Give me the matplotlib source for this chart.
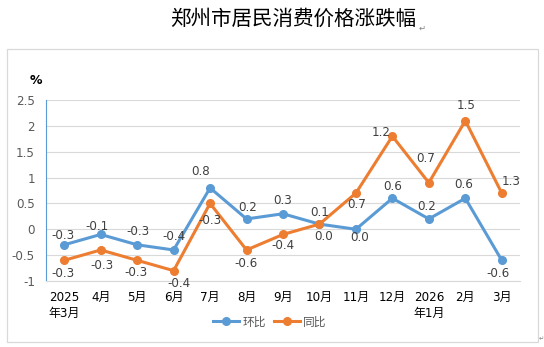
import matplotlib
matplotlib.use("Agg")
import matplotlib.pyplot as plt
from matplotlib.patches import Rectangle
from matplotlib.lines import Line2D

# DejaVu for digits, Noto CJK for the Chinese characters
plt.rcParams['font.family'] = ['DejaVu Sans', 'Noto Sans CJK SC']

# data
months = ["2025\n年3月", "4月", "5月", "6月", "7月", "8月", "9月",
          "10月", "11月", "12月", "2026\n年1月", "2月", "3月"]
mom = [-0.3, -0.1, -0.3, -0.4, 0.8, 0.2, 0.3, 0.1, 0.0, 0.6, 0.2, 0.6, -0.6]
yoy = [-0.6, -0.4, -0.6, -0.8, 0.5, -0.4, -0.1, 0.1, 0.7, 1.8, 0.9, 2.1, 0.7]
mom_labels = ["-0.3", "-0.1", "-0.3", "-0.4", "0.8", "0.2", "0.3",
              "0.1", "0.0", "0.6", "0.2", "0.6", "-0.6"]
yoy_labels = ["-0.3", "-0.3", "-0.3", "-0.4", "-0.3", "-0.6", "-0.4",
              "0.0", "0.7", "1.2", "0.7", "1.5", "1.3"]
y_ticks = [-1, -0.5, 0, 0.5, 1, 1.5, 2, 2.5]

# label offsets in pixels (dx, dy)
mom_off = [(-1, 9), (-4, 8), (1, 13), (0, 13), (-10, 16), (1, 11), (0, 13),
           (0, 12), (4, -8), (0, 12), (-2, 12), (-2, 14), (-4, -13)]
yoy_off = [(-1, -13), (1, -16), (-1, -12), (5, -13), (0, -17), (-1, -14), (0, -11),
           (4, -12), (1, -11), (-11, 4), (-3, 24), (1, 15), (9, 12)]

BLUE = "#5B9BD5"
ORANGE = "#ED7D31"
W, H = 544, 347
FS = 8.6

fig = plt.figure(figsize=(W / 100, H / 100), dpi=100)
ax = fig.add_axes([46 / W, 1 - 281 / H, (520 - 46) / W, (281 - 100) / H])

x = list(range(len(months)))
ax.plot(x, mom, color=BLUE, lw=2.2, marker="o", ms=5.5, zorder=3, label="环比")
ax.plot(x, yoy, color=ORANGE, lw=2.2, marker="o", ms=5.5, zorder=3, label="同比")

for i in x:
    ax.annotate(mom_labels[i], (i, mom[i]), xytext=mom_off[i], textcoords="offset pixels",
                ha="center", va="center", fontsize=FS, color="#404040")
    ax.annotate(yoy_labels[i], (i, yoy[i]), xytext=yoy_off[i], textcoords="offset pixels",
                ha="center", va="center", fontsize=FS, color="#404040")

ax.set_xlim(-0.5, len(months) - 0.5)
ax.set_ylim(-1, 2.5)
ax.set_yticks(y_ticks)
ax.set_yticklabels([f"{v:g}" for v in y_ticks], fontsize=FS, color="#595959")
ax.set_xticks(x)
ax.set_xticklabels(months, fontsize=FS, color="black", linespacing=1.3, va="top")
ax.tick_params(axis="both", length=0)
ax.tick_params(axis="y", pad=8)
ax.tick_params(axis="x", pad=7)
ax.grid(axis="y", color="#D9D9D9", lw=0.8)
ax.set_axisbelow(True)
for s in ["top", "right"]:
    ax.spines[s].set_visible(False)
ax.spines["left"].set_color(BLUE)
ax.spines["left"].set_linewidth(0.8)
ax.spines["bottom"].set_color("#D9D9D9")
ax.spines["bottom"].set_linewidth(0.8)

handles = [Line2D([], [], color=BLUE, lw=2.2, marker="o", ms=5.5),
           Line2D([], [], color=ORANGE, lw=2.2, marker="o", ms=5.5)]
fig.legend(handles, ["环比", "同比"], loc="center", bbox_to_anchor=(270 / W, 1 - 322 / H),
           ncol=2, frameon=False, prop={"family": "Noto Sans CJK SC", "size": 8.5},
           labelcolor="#595959", handlelength=2.2, handletextpad=0.3, columnspacing=0.6)

fig.text(36 / W, 1 - 80 / H, "%", ha="center", va="center", fontsize=9,
         fontweight="bold", color="black")
fig.text(293 / W, 1 - 18.5 / H, "郑州市居民消费价格涨跌幅", ha="center", va="center",
         fontsize=14.8, color="black", family=["Noto Sans CJK SC"], fontweight="light")
fig.text(419 / W, 1 - 28 / H, "↵", ha="left", va="center", fontsize=6,
         color="#808080")
fig.text(539 / W, 1 - 339 / H, "↵", ha="left", va="center", fontsize=4.5,
         color="#808080")

fig.patches.append(Rectangle((7 / W, 1 - 342 / H), (538 - 7) / W, (342 - 49) / H,
                             transform=fig.transFigure, fill=False,
                             edgecolor="#D9D9D9", lw=0.9))

fig.savefig("out.png", dpi=100)
